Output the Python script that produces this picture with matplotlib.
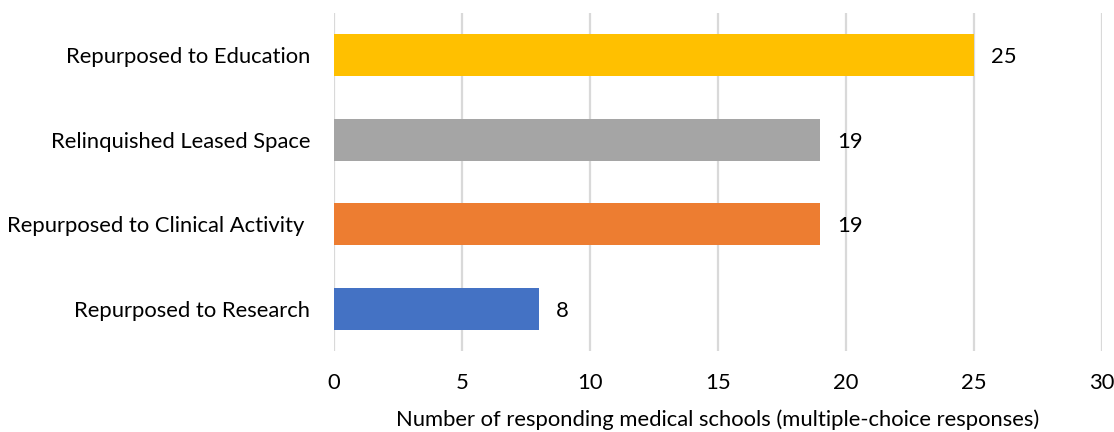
import matplotlib
matplotlib.use("Agg")
import matplotlib.pyplot as plt

categories = ["Repurposed to Research", "Repurposed to Clinical Activity ",
              "Relinquished Leased Space", "Repurposed to Education"]
values = [8, 19, 19, 25]
colors = ["#4472C4", "#ED7D31", "#A5A5A5", "#FFC000"]
xticks = [0, 5, 10, 15, 20, 25, 30]
xlabel = "Number of responding medical schools (multiple-choice responses)"

plt.rcParams['font.family'] = ['Lato', 'DejaVu Sans']
FS = 15.8

fig = plt.figure(figsize=(11.14, 4.32), dpi=100)
ax = fig.add_axes([334/1114, 1 - 351/432, (1102 - 334)/1114, (351 - 13)/432])

ypos = list(range(len(categories)))
ax.barh(ypos, values, height=0.5, color=colors, zorder=3)
for y, v in zip(ypos, values):
    ax.annotate(str(v), (v, y), xytext=(12, 0), textcoords="offset points",
                va="center_baseline", ha="left", fontsize=FS, color="#000000")

ax.set_xlim(0, 30)
ax.set_ylim(-0.5, 3.5)
ax.set_xticks(xticks)
ax.set_xticklabels([str(t) for t in xticks])
ax.set_yticks(ypos)
ax.set_yticklabels(categories)
ax.tick_params(axis='both', length=0, labelsize=FS, colors="#000000")
ax.tick_params(axis='x', pad=16)
ax.tick_params(axis='y', pad=17)
ax.grid(axis='x', color="#D9D9D9", linewidth=1.6, zorder=0)
for s in ax.spines.values():
    s.set_visible(False)
ax.set_xlabel(xlabel, fontsize=FS, labelpad=12)

fig.savefig("out.png", dpi=100)
